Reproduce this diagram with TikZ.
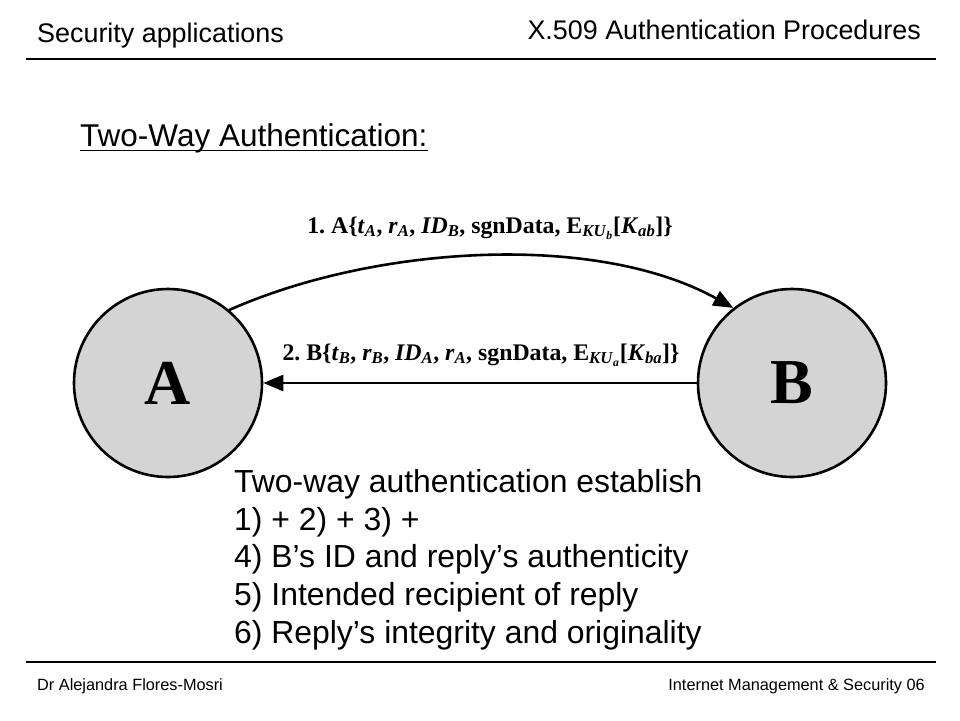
\documentclass[tikz,border=0pt]{standalone}
\usepackage{fontspec}
\setmainfont{Liberation Serif}
\newfontfamily\arialfont{Liberation Sans}
\usetikzlibrary{arrows.meta}
\frenchspacing
\definecolor{circfill}{RGB}{212,212,212}
\newcommand\vs[2]{\textit{#1}\textsubscript{\textit{#2}}}
\tikzset{
  hdr/.style={inner sep=0pt, font=\arialfont\fontsize{26.9}{31}\selectfont},
  ftr/.style={inner sep=0pt, font=\arialfont\fontsize{16.3}{19}\selectfont},
  bodytxt/.style={inner sep=0pt, anchor=base west, font=\arialfont\fontsize{31.9}{37}\selectfont},
  party/.style={circle, draw, line width=2.6pt, fill=circfill, minimum size=188pt, inner sep=0pt,
    font=\fontsize{64}{70}\selectfont\bfseries},
  lbl/.style={inner sep=0pt, anchor=base, font=\fontsize{23.8}{26}\selectfont\bfseries},
  arr/.style={line width=2.6pt, -{Triangle[length=20pt,width=16pt]}},
  rule/.style={line width=1.2pt}
}
\begin{document}
\begin{tikzpicture}[x=1pt,y=-1pt]
\useasboundingbox (0,0) rectangle (960,720);
% header and footer
\node[hdr, anchor=base west] (h1) at (37,42) {Security applications};
\node[hdr, anchor=base east] (h2) at (921,39) {X.509 Authentication Procedures};
\coordinate (hl1) at (26,59);
\coordinate (hl2) at (936,59);
\draw[rule] (hl1) -- (hl2);
\coordinate (fl1) at (26,662);
\coordinate (fl2) at (936,662);
\draw[rule] (fl1) -- (fl2);
\node[ftr, anchor=base west] (f1) at (37,690) {Dr Alejandra Flores-Mosri};
\node[ftr, anchor=base east] (f2) at (925,690) {Internet Management \& Security 06};
% title
\node[inner sep=0pt, anchor=base west, font=\arialfont\fontsize{31.5}{36}\selectfont] (title) at (80,146.5) {Two-Way Authentication:};
\draw[line width=1.8pt] ([yshift=-4pt]title.base west) -- ([yshift=-4pt]title.base east);
% parties
\node[party] (A) at (168,383) {A};
\node[party] (B) at (792,383) {B};
\draw[arr] (A.50) to[out=24,in=151,looseness=0.8] (B.128);
\draw[arr] (B.west) -- (A.east);
\node[lbl] (m1) at (490,233) {1. A\{\vs{t}{A}, \vs{r}{A}, \vs{ID}{B}, sgnData, E\textsubscript{\textit{KU}\textsubscript{\textit{b}}}[\vs{K}{ab}]\}};
\node[lbl] (m2) at (481,360) {2. B\{\vs{t}{B}, \vs{r}{B}, \vs{ID}{A}, \vs{r}{A}, sgnData, E\textsubscript{\textit{KU}\textsubscript{\textit{a}}}[\vs{K}{ba}]\}};
% explanation
\node[bodytxt] (t1) at (234,492) {Two-way authentication establish};
\node[bodytxt] (t2) at (234,530) {1) + 2) + 3) +};
\node[bodytxt] (t3) at (234,567.5) {4) B’s ID and reply’s authenticity};
\node[bodytxt] (t4) at (234,605) {5) Intended recipient of reply};
\node[bodytxt] (t5) at (234,643) {6) Reply’s integrity and originality};
\end{tikzpicture}
\end{document}
